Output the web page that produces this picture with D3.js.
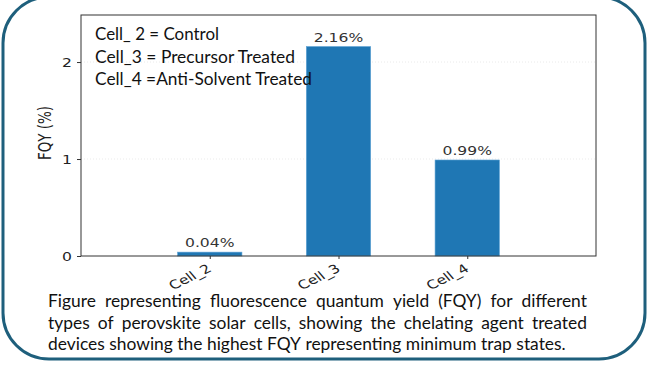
<!DOCTYPE html>
<html>
<head>
<meta charset="utf-8">
<script src="https://cdn.jsdelivr.net/npm/d3@7"></script>
<style>
  body { margin: 0; background: #fff; }
  svg { display: block; }
</style>
</head>
<body>
<svg id="chart"></svg>
<script>
// data
var cells = ["Cell_2", "Cell_3", "Cell_4"];
var fqy = [0.04, 2.16, 0.99];
var yTicks = [0, 1, 2];
var legendLines = ["Cell_ 2 = Control", "Cell_3 = Precursor Treated", "Cell_4 =Anti-Solvent Treated"];
var legendWidths = [124, 200, 217];
var captionLines = [
  "Figure representing fluorescence quantum yield (FQY) for different",
  "types of perovskite solar cells, showing the chelating agent treated",
  "devices showing the highest FQY representing minimum trap states."
];

var W = 649, H = 365;
var margin = {top: 15, right: 53, bottom: 109, left: 81};
var plotW = W - margin.left - margin.right;
var plotH = H - margin.top - margin.bottom;
var stretch = 1.3; // the figure is stretched sideways

var svg = d3.select("#chart").attr("width", W).attr("height", H);

// outer rounded box
svg.append("rect")
    .attr("x", 3).attr("y", -3)
    .attr("width", 642).attr("height", 362)
    .attr("rx", 46).attr("ry", 46)
    .attr("fill", "none")
    .attr("stroke", "#1e5f7c")
    .attr("stroke-width", 3);

var g = svg.append("g").attr("transform", "translate(" + margin.left + "," + margin.top + ")");

var x = d3.scaleLinear().domain([-1, 3]).range([0, plotW]);
var y = d3.scaleLinear().domain([0, 2.485]).range([plotH, 0]);
var barW = x(0.5) - x(0);

// faint grid
g.selectAll(".grid").data(yTicks.filter(d => d > 0)).enter().append("line")
    .attr("x1", 0).attr("x2", plotW)
    .attr("y1", d => y(d)).attr("y2", d => y(d))
    .attr("stroke", "#e6e6e6")
    .attr("stroke-width", 0.8)
    .attr("stroke-dasharray", "1,2");

// bars
g.selectAll(".bar").data(fqy).enter().append("rect")
    .attr("x", (d, i) => x(i) - barW / 2)
    .attr("y", d => y(d))
    .attr("width", barW)
    .attr("height", d => y(0) - y(d))
    .attr("fill", "#1f77b4")
    .attr("stroke", "#5fa3d6")
    .attr("stroke-width", 0.6);

// value labels
g.selectAll(".val").data(fqy).enter().append("text")
    .attr("transform", (d, i) => "translate(" + x(i) + "," + (y(d) - 5) + ") scale(" + stretch + ",1)")
    .attr("text-anchor", "middle")
    .attr("font-family", "DejaVu Sans")
    .attr("font-size", 12)
    .attr("fill", "#333")
    .text(d => d3.format(".2f")(d) + "%");

// frame
g.append("rect")
    .attr("width", plotW).attr("height", plotH)
    .attr("fill", "none")
    .attr("stroke", "#333")
    .attr("stroke-width", 1);

// y axis
var yAxis = g.append("g").call(d3.axisLeft(y).tickValues(yTicks).tickSize(4).tickFormat(d3.format("d")));
yAxis.select(".domain").remove();
yAxis.selectAll("line").attr("stroke", "#333");
yAxis.selectAll("text")
    .attr("x", null).attr("dy", null)
    .attr("font-family", "DejaVu Sans").attr("font-size", 12).attr("fill", "#222")
    .attr("dominant-baseline", "central")
    .attr("transform", "translate(-9,0) scale(" + stretch + ",1)");

// x axis
var xAxis = g.append("g").attr("transform", "translate(0," + plotH + ")")
    .call(d3.axisBottom(x).tickValues(d3.range(cells.length)).tickSize(3).tickFormat(i => cells[i]));
xAxis.select(".domain").remove();
xAxis.selectAll("line").attr("stroke", "#333");
xAxis.selectAll("text")
    .attr("y", null).attr("dy", null)
    .attr("text-anchor", "end")
    .attr("dominant-baseline", "hanging")
    .attr("font-family", "DejaVu Sans").attr("font-size", 12).attr("fill", "#222")
    .attr("transform", "translate(-4,7) scale(" + stretch + ",1) rotate(-33)");

// y label
svg.append("text")
    .attr("transform", "translate(51," + (margin.top + 118) + ") scale(" + stretch + ",1) rotate(-90)")
    .attr("text-anchor", "middle")
    .attr("font-family", "DejaVu Sans")
    .attr("font-size", 13.5)
    .attr("fill", "#222")
    .text("FQY (%)");

// legend text inside the axes
svg.selectAll(".leg").data(legendLines).enter().append("text")
    .attr("x", 95)
    .attr("y", (d, i) => 40 + i * 22.5)
    .attr("font-family", "Lato")
    .attr("font-size", 18)
    .attr("fill", "#111")
    .attr("textLength", (d, i) => legendWidths[i])
    .attr("lengthAdjust", "spacingAndGlyphs")
    .text(d => d);

// caption, justified
var capLeft = 48, capRight = 587, capLastEnd = 565, capSize = 16.5;
var probe = svg.append("text").attr("font-family", "Lato").attr("font-size", capSize);
function measure(s) { probe.text(s); return probe.node().getComputedTextLength(); }
var lastNat = measure(captionLines[2]);
var sx = (capLastEnd - capLeft) / lastNat;
var spaceW = measure("a b") - measure("ab");
var lineWords = captionLines.map(l => l.split(" "));
var lineWidths = lineWords.map(ws => ws.map(w => measure(w)));
probe.remove();

captionLines.forEach(function(line, li) {
  var words = lineWords[li];
  var widths = lineWidths[li];
  var total = d3.sum(widths);
  var avail = (capRight - capLeft) / sx;
  var gap = li < captionLines.length - 1 ? (avail - total) / (words.length - 1) : spaceW;
  var lg = svg.append("g")
      .attr("transform", "translate(" + capLeft + "," + (307 + li * 21.5) + ") scale(" + sx + ",1)");
  var cx = 0;
  words.forEach(function(w, wi) {
    lg.append("text")
        .attr("x", cx)
        .attr("font-family", "Lato")
        .attr("font-size", capSize)
        .attr("fill", "#111")
        .text(w);
    cx += widths[wi] + gap;
  });
});
</script>
</body>
</html>
